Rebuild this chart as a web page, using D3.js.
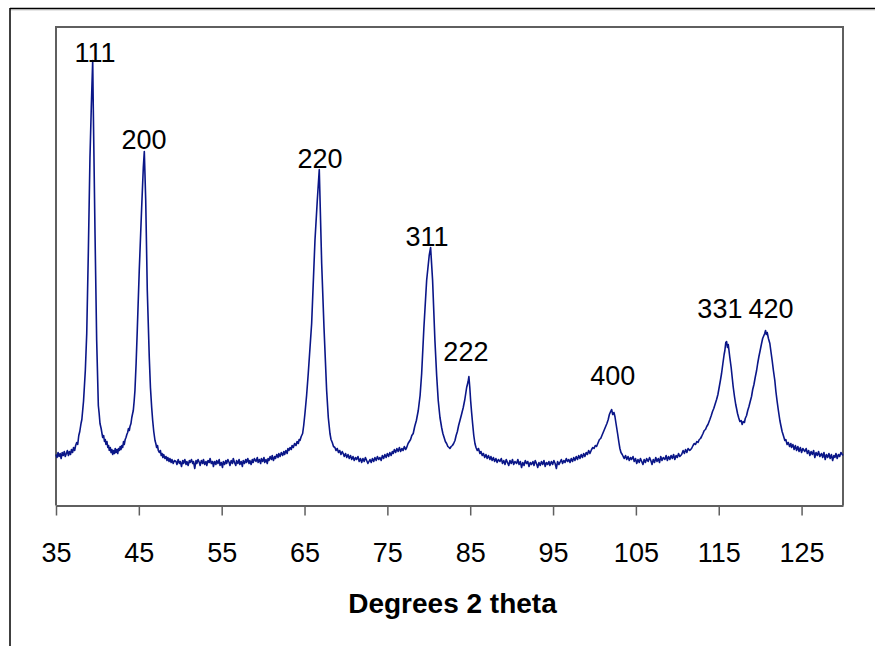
<!DOCTYPE html>
<html>
<head>
<meta charset="utf-8">
<script src="https://cdn.jsdelivr.net/npm/d3@7"></script>
<style>
  body { margin: 0; background: #fff; }
  svg { display: block; font-family: "Liberation Sans", Arial, sans-serif; }
</style>
</head>
<body>
<svg width="875" height="646"></svg>
<script>
// 2 theta (degrees), counts (arbitrary units)
var xrdScan = [
  [35.00,51],[35.12,48],[35.25,53],[35.37,49],[35.5,52],[35.62,47],[35.75,53],[35.87,50],[36.0,54],[36.12,49],
  [36.25,52],[36.37,55],[36.5,50],[36.62,54],[36.75,51],[36.87,56],[37.0,53],[37.12,58],[37.25,55],[37.37,60],
  [37.5,63],[37.62,61],[37.75,70],[37.87,74],[38.02,82],[38.12,86],[38.22,95],[38.32,104],[38.42,118],[38.54,135],
  [38.71,172],[38.90,252],[39.10,348],[39.26,398],[39.43,445],[39.50,398],[39.71,272],[39.91,165],[40.11,100],[40.21,92],
  [40.31,82],[40.45,77],[40.55,72],[40.64,68],[40.75,70],[40.85,64],[40.95,66],[41.03,61],[41.15,64],[41.25,58],
  [41.35,60],[41.43,55],[41.55,58],[41.65,53],[41.75,56],[41.84,51],[41.95,55],[42.05,52],[42.15,57],[42.24,53],
  [42.35,56],[42.45,52],[42.55,57],[42.65,55],[42.75,59],[42.84,56],[42.95,60],[43.05,58],[43.15,64],[43.24,61],
  [43.35,66],[43.45,68],[43.55,71],[43.65,73],[43.75,77],[43.85,75],[43.93,79],[44.05,82],[44.15,88],[44.25,92],
  [44.33,95],[44.43,104],[44.53,115],[44.67,142],[44.81,175],[45.05,235],[45.34,298],[45.54,338],[45.66,354],[45.83,305],
  [46.02,215],[46.26,148],[46.40,118],[46.55,98],[46.67,85],[46.80,74],[46.95,65],[47.05,62],[47.15,58],[47.25,60],
  [47.35,55],[47.47,53],[47.6,55],[47.7,50],[47.8,52],[47.9,48],[48.0,51],[48.15,47],[48.28,49],[48.4,45],
  [48.5,48],[48.65,44],[48.75,47],[48.9,43],[49.0,46],[49.15,42],[49.3,45],[49.48,44],[49.6,41],[49.75,46],
  [49.9,42],[50.0,44],[50.15,39],[50.3,45],[50.4,42],[50.55,46],[50.7,41],[50.8,44],[50.95,40],[51.1,45],
  [51.2,43],[51.35,46],[51.5,42],[51.6,44],[51.75,37],[51.9,45],[52.0,42],[52.15,46],[52.3,43],[52.4,40],
  [52.55,45],[52.7,42],[52.8,46],[52.95,41],[53.1,44],[53.2,40],[53.35,45],[53.5,43],[53.6,47],[53.75,42],
  [53.9,44],[54.0,39],[54.15,44],[54.3,41],[54.4,45],[54.55,42],[54.7,46],[54.8,40],[54.95,43],[55.1,38],
  [55.2,44],[55.35,41],[55.5,45],[55.6,42],[55.75,46],[55.9,43],[56.0,40],[56.15,45],[56.3,42],[56.4,47],
  [56.55,43],[56.7,40],[56.8,45],[56.95,42],[57.1,46],[57.2,41],[57.35,44],[57.5,39],[57.6,45],[57.75,42],
  [57.9,46],[58.0,43],[58.15,47],[58.3,42],[58.4,45],[58.55,41],[58.7,46],[58.8,43],[58.95,47],[59.14,44],
  [59.3,48],[59.4,43],[59.55,46],[59.7,42],[59.8,47],[59.95,44],[60.1,48],[60.2,43],[60.35,46],[60.5,42],
  [60.6,47],[60.71,45],[60.85,49],[61.0,46],[61.1,50],[61.25,45],[61.4,49],[61.5,47],[61.65,51],[61.8,48],
  [61.9,52],[62.05,49],[62.2,53],[62.36,50],[62.5,54],[62.6,51],[62.75,55],[62.9,52],[63.0,57],[63.12,55],
  [63.25,58],[63.4,56],[63.5,60],[63.65,58],[63.8,62],[63.97,60],[64.1,64],[64.25,62],[64.35,66],[64.45,65],
  [64.6,69],[64.77,72],[64.9,80],[65.05,92],[65.25,110],[65.45,132],[65.86,182],[66.26,265],[66.54,305],[66.78,336],
  [67.07,242],[67.35,178],[67.67,115],[67.87,88],[68.07,72],[68.2,66],[68.35,63],[68.5,59],[68.67,58],[68.8,55],
  [68.95,57],[69.1,53],[69.25,55],[69.4,51],[69.55,54],[69.67,52],[69.8,49],[69.95,52],[70.1,48],[70.25,51],
  [70.4,47],[70.55,50],[70.7,46],[70.85,49],[71.0,45],[71.15,48],[71.29,46],[71.45,49],[71.6,44],[71.75,47],
  [71.9,43],[72.05,47],[72.2,44],[72.35,48],[72.5,45],[72.65,42],[72.9,46],[73.05,43],[73.2,47],[73.35,44],
  [73.5,48],[73.65,45],[73.8,49],[73.95,46],[74.1,48],[74.25,45],[74.4,50],[74.55,47],[74.7,51],[74.85,48],
  [75.0,52],[75.15,49],[75.3,53],[75.45,50],[75.6,54],[75.71,52],[75.85,56],[76.0,53],[76.15,57],[76.3,54],
  [76.45,58],[76.6,54],[76.75,57],[76.9,55],[77.05,59],[77.2,56],[77.33,58],[77.5,62],[77.65,64],[77.8,66],
  [77.95,70],[78.12,72],[78.3,79],[78.5,85],[78.73,95],[78.95,110],[79.14,132],[79.41,178],[79.74,225],[80.05,250],
  [80.22,258],[80.46,225],[80.74,165],[80.95,130],[81.14,105],[81.35,88],[81.55,78],[81.7,72],[81.85,68],[82.0,64],
  [82.15,62],[82.3,59],[82.45,58],[82.55,57],[82.7,59],[82.85,60],[83.0,62],[83.16,65],[83.3,70],[83.45,74],
  [83.6,80],[83.76,85],[83.95,91],[84.16,98],[84.35,106],[84.57,118],[84.75,124],[84.84,129],[84.95,118],[85.05,105],
  [85.17,93],[85.29,82],[85.43,70],[85.57,62],[85.7,58],[85.85,55],[86.0,57],[86.17,52],[86.3,54],[86.45,50],
  [86.6,52],[86.75,48],[86.9,51],[87.05,47],[87.2,50],[87.38,46],[87.5,49],[87.65,45],[87.8,48],[87.95,44],
  [88.1,47],[88.25,43],[88.4,46],[88.59,44],[88.75,47],[88.9,42],[89.05,45],[89.2,41],[89.35,46],[89.5,43],
  [89.65,40],[89.8,45],[89.95,42],[90.1,46],[90.25,41],[90.4,44],[90.6,42],[90.75,46],[90.9,41],[91.05,44],
  [91.2,38],[91.35,43],[91.5,40],[91.65,45],[91.8,42],[91.95,44],[92.1,39],[92.25,43],[92.4,41],[92.57,44],
  [92.7,40],[92.85,45],[93.0,42],[93.15,38],[93.3,43],[93.45,40],[93.6,44],[93.75,41],[93.9,45],[94.05,39],
  [94.2,43],[94.35,41],[94.5,44],[94.62,40],[94.8,44],[94.95,41],[95.1,45],[95.25,42],[95.4,37],[95.55,44],
  [95.7,41],[95.83,43],[96.0,46],[96.15,42],[96.3,45],[96.45,43],[96.6,47],[96.75,44],[96.9,46],[97.05,43],
  [97.2,47],[97.35,44],[97.5,48],[97.64,45],[97.8,49],[97.95,46],[98.1,50],[98.25,47],[98.4,51],[98.55,48],
  [98.7,52],[98.84,49],[99.0,53],[99.15,51],[99.3,55],[99.45,52],[99.65,56],[99.8,58],[99.95,57],[100.1,60],
  [100.25,59],[100.45,63],[100.6,66],[100.75,67],[100.9,70],[101.05,73],[101.2,76],[101.35,79],[101.5,82],[101.66,86],
  [101.8,91],[101.95,94],[102.07,96],[102.2,91],[102.35,93],[102.47,89],[102.6,82],[102.79,72],[102.95,63],[103.07,57],
  [103.2,53],[103.35,51],[103.47,49],[103.6,47],[103.75,50],[103.9,46],[104.05,49],[104.2,45],[104.35,48],[104.48,46],
  [104.65,49],[104.8,44],[104.95,47],[105.1,42],[105.25,46],[105.4,43],[105.55,47],[105.7,44],[105.85,41],[106.0,46],
  [106.15,43],[106.3,47],[106.48,44],[106.65,48],[106.8,45],[106.95,41],[107.1,46],[107.25,43],[107.4,48],[107.55,44],
  [107.7,47],[107.85,43],[108.0,49],[108.15,45],[108.3,48],[108.5,46],[108.65,50],[108.8,45],[108.95,49],[109.1,46],
  [109.25,50],[109.4,47],[109.55,51],[109.7,46],[109.85,50],[110.0,48],[110.15,52],[110.3,49],[110.52,51],[110.7,55],
  [110.85,52],[111.0,56],[111.15,53],[111.3,57],[111.5,55],[111.72,57],[111.9,60],[112.05,62],[112.2,61],[112.35,64],
  [112.5,63],[112.65,66],[112.8,67],[112.93,69],[113.1,72],[113.25,75],[113.4,76],[113.55,79],[113.7,81],[113.93,86],
  [114.1,90],[114.25,94],[114.4,97],[114.55,101],[114.74,106],[114.9,111],[115.05,118],[115.2,125],[115.34,132],[115.5,142],
  [115.65,151],[115.74,155],[115.85,163],[115.95,164],[116.05,158],[116.15,161],[116.34,148],[116.5,138],[116.6,130],[116.74,119],
  [116.9,109],[117.05,101],[117.15,97],[117.27,92],[117.4,88],[117.55,84],[117.7,85],[117.83,81],[117.95,84],[118.1,83],
  [118.2,87],[118.36,90],[118.5,95],[118.65,99],[118.8,104],[118.96,109],[119.1,116],[119.25,121],[119.4,128],[119.57,135],
  [119.7,142],[119.85,149],[120.0,155],[120.17,162],[120.3,167],[120.45,170],[120.55,172],[120.65,175],[120.75,171],[120.85,173],
  [121.0,167],[121.17,162],[121.3,154],[121.45,145],[121.6,135],[121.77,125],[121.9,114],[122.05,104],[122.2,95],[122.38,85],
  [122.5,80],[122.65,74],[122.8,70],[122.98,65],[123.1,66],[123.25,61],[123.4,63],[123.55,59],[123.7,62],[123.79,58],
  [123.95,61],[124.1,56],[124.25,60],[124.4,55],[124.55,59],[124.7,54],[124.85,58],[125.0,53],[125.15,57],[125.39,54],
  [125.55,57],[125.7,52],[125.85,55],[126.0,50],[126.15,54],[126.3,51],[126.45,55],[126.6,48],[126.75,53],[126.9,50],
  [127.05,54],[127.2,49],[127.41,52],[127.55,48],[127.7,53],[127.85,46],[128.0,51],[128.15,48],[128.3,52],[128.45,47],
  [128.6,51],[128.75,45],[128.9,50],[129.02,48],[129.15,52],[129.3,47],[129.45,51],[129.6,49],[129.75,53],[129.99,50]
];

// peak indices (hkl) and where their labels sit
var peakNames = ["111", "200", "220", "311", "222", "400", "331", "420"];
var labelAngle = [39.71, 45.62, 66.86, 79.78, 84.48, 102.2, 115.14, 121.3];
var labelCounts = [444, 357, 338, 260, 145, 121, 188, 188];

var tickAngles = [35, 45, 55, 65, 75, 85, 95, 105, 115, 125];

var svg = d3.select("svg"),
    width = +svg.attr("width"),
    height = +svg.attr("height");

var plot = { left: 56, top: 27, right: 843, bottom: 505.5 };

var x = d3.scaleLinear().domain([35, 130]).range([plot.left, plot.right]);
var y = d3.scaleLinear().domain([0, 478.5]).range([plot.bottom, plot.top]);

// outer frame (only top and left edges show)
svg.append("line")
    .attr("x1", 10).attr("y1", 8.5).attr("x2", width).attr("y2", 8.5)
    .attr("stroke", "#000").attr("stroke-width", 1.5);
svg.append("line")
    .attr("x1", 10).attr("y1", 9.8).attr("x2", width).attr("y2", 9.8)
    .attr("stroke", "#aaa").attr("stroke-width", 1);
svg.append("line")
    .attr("x1", 10).attr("y1", 8).attr("x2", 10).attr("y2", height)
    .attr("stroke", "#000").attr("stroke-width", 1.5);

// plot area border
svg.append("path")
    .attr("d", "M" + plot.left + "," + plot.bottom + "V" + plot.top + "H" + plot.right + "V" + plot.bottom)
    .attr("fill", "none")
    .attr("stroke", "#5f5f5f")
    .attr("stroke-width", 2);

var xAxis = svg.append("g")
    .attr("transform", "translate(0," + plot.bottom + ")")
    .call(d3.axisBottom(x).tickValues(tickAngles).tickSize(10).tickSizeOuter(0).tickPadding(27));

xAxis.select(".domain").attr("stroke", "#5f5f5f").attr("stroke-width", 2);
xAxis.selectAll(".tick line").attr("stroke", "#5f5f5f").attr("stroke-width", 1.5);
xAxis.selectAll(".tick text")
    .attr("fill", "#000")
    .style("font-size", "27px")
    .style("font-family", "'Liberation Sans', Arial, sans-serif");

svg.append("text")
    .attr("x", 452.5)
    .attr("y", 613)
    .attr("text-anchor", "middle")
    .style("font-size", "28px")
    .style("font-weight", "bold")
    .text("Degrees 2 theta");

var line = d3.line()
    .x(function(d) { return x(d[0]); })
    .y(function(d) { return y(d[1]); });

svg.append("path")
    .datum(xrdScan)
    .attr("fill", "none")
    .attr("stroke", "#0a1688")
    .attr("stroke-width", 1.6)
    .attr("stroke-linejoin", "round")
    .attr("d", line);

svg.selectAll(".peak-label")
    .data(peakNames)
    .enter().append("text")
      .attr("class", "peak-label")
      .attr("x", function(d, i) { return x(labelAngle[i]); })
      .attr("y", function(d, i) { return y(labelCounts[i]); })
      .attr("text-anchor", "middle")
      .style("font-size", "27px")
      .text(function(d) { return d; });
</script>
</body>
</html>
